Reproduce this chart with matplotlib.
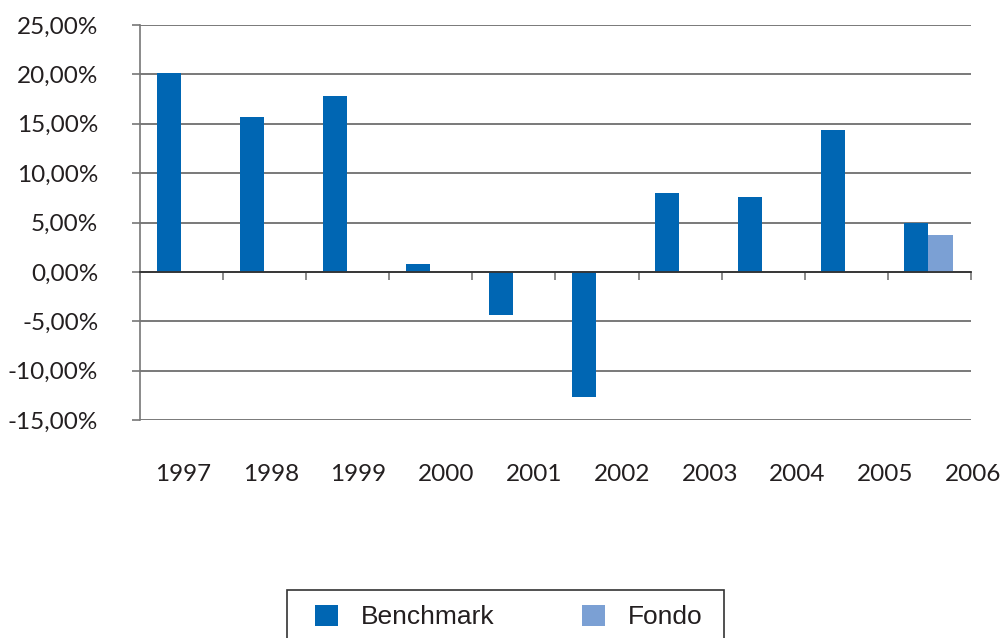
import numpy as np
import matplotlib
matplotlib.use("Agg")
import matplotlib.pyplot as plt
from matplotlib.ticker import FuncFormatter
from matplotlib.patches import Rectangle
import matplotlib.transforms as mtransforms

years = ["1997", "1998", "1999", "2000", "2001", "2002", "2003", "2004", "2005", "2006"]
benchmark = [20.1, 15.7, 17.8, 0.8, -4.35, -12.65, 8.0, 7.6, 14.4, 5.0]
fondo = [np.nan] * 9 + [3.75]
yticks = [-15, -10, -5, 0, 5, 10, 15, 20, 25]

c_bench = "#0066b3"
c_fondo = "#7ba0d4"

fig = plt.figure(figsize=(10.04, 6.38), dpi=100)
ax = fig.add_axes([0.1394, 0.3417, 0.8276, 0.6191])

x = np.arange(len(benchmark))
w = 0.29
ax.bar(x + 0.2, benchmark, width=w, align="edge", color=c_bench, label="Benchmark", zorder=3)
ax.bar(x + 0.2 + w, fondo, width=w, align="edge", color=c_fondo, label="Fondo", zorder=3)

ax.set_xlim(0, 10)
ax.set_ylim(-15, 25)
ax.set_yticks(yticks)
ax.yaxis.set_major_formatter(FuncFormatter(lambda v, p: f"{v:.2f}%".replace(".", ",")))
ax.yaxis.grid(True, color="#555555", linewidth=1.1, zorder=0)
ax.set_axisbelow(True)

for s in ["top", "right"]:
    ax.spines[s].set_visible(False)
ax.spines["left"].set_color("#777777")
ax.spines["left"].set_linewidth(1.2)
ax.spines["bottom"].set_position(("data", 0))
ax.spines["bottom"].set_color("#333333")
ax.spines["bottom"].set_linewidth(1.3)
ax.spines["bottom"].set_zorder(4)

ax.set_xticks(np.arange(0, 11))
ax.set_xticklabels([])
ax.tick_params(axis="x", length=6, width=1.2, color="#777777", direction="out")
ax.tick_params(axis="y", length=6, width=1.2, color="#777777", pad=24,
               labelsize=17.5, labelcolor="#231f20")
for lbl in ax.get_yticklabels():
    lbl.set_fontfamily("Lato")

# year labels sit a little off the category grid, as in the original
trans = mtransforms.blended_transform_factory(ax.transData, ax.transAxes)
for i, yr in enumerate(years):
    ax.text(0.517 + i * 1.0566, -0.139, yr, transform=trans, ha="center", va="center",
            fontsize=17.5, family="Lato", color="#231f20")

# legend box runs off the bottom of the image
fig.patches.append(Rectangle((287 / 1004, -0.05), (724 - 287) / 1004, 0.05 + 48 / 638,
                             transform=fig.transFigure, fill=False,
                             edgecolor="#333333", linewidth=1.2))
leg = fig.legend(loc="center left", bbox_to_anchor=(315 / 1004, 1 - 617 / 638),
                 ncol=2, frameon=False,
                 prop={"family": "Liberation Sans", "size": 19},
                 handlelength=0.87, handleheight=0.87, handletextpad=0.85,
                 columnspacing=3.35, borderpad=0, borderaxespad=0)
for t in leg.get_texts():
    t.set_color("#231f20")

fig.savefig("out.png", dpi=100)
